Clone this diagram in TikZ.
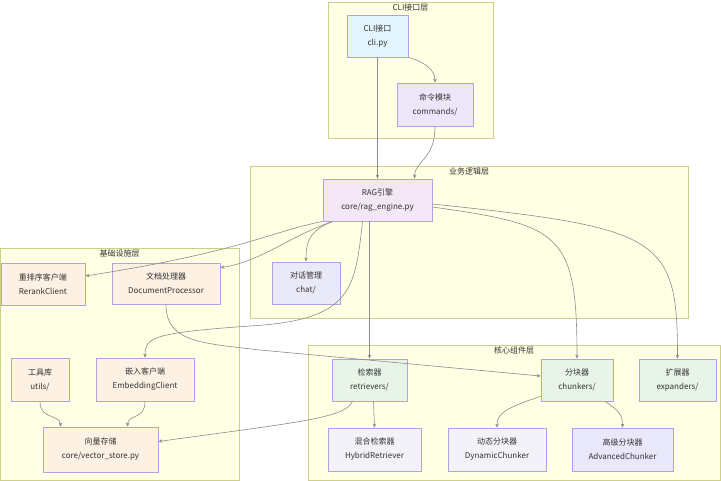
\documentclass[tikz,border=0pt]{standalone}
\usepackage{fontspec}
\setmainfont{Noto Sans CJK SC}
\usepackage{tikz}
\usepackage{xcolor}
\usetikzlibrary{positioning, arrows.meta, shapes.geometric}

\definecolor{layerfill}{HTML}{FFFFE3}
\definecolor{layerline}{HTML}{CFCF8A}
\definecolor{boxline}{HTML}{B3A0E6}
\definecolor{cliblue}{HTML}{E3F4FC}
\definecolor{cmdlav}{HTML}{ECE6F8}
\definecolor{ragpink}{HTML}{F3E6F5}
\definecolor{chatlav}{HTML}{E9E9F7}
\definecolor{infraorange}{HTML}{FDF1E3}
\definecolor{coregreen}{HTML}{E9F4E9}
\definecolor{subgray}{HTML}{F3F2F8}
\definecolor{advlav}{HTML}{E9E8FB}
\definecolor{edgegray}{HTML}{8C8C8C}
\definecolor{textdark}{HTML}{333333}

\begin{document}
\begin{tikzpicture}[x=1pt, y=-1pt,
  every node/.style={font=\fontsize{8}{14}\selectfont, text=textdark},
  layerbox/.style={draw=layerline, fill=layerfill, line width=0.6pt, inner sep=0pt},
  layertitle/.style={anchor=north, inner sep=1.5pt},
  modbox/.style={draw=boxline, line width=0.8pt, align=center, inner sep=0pt},
  arr/.style={draw=edgegray, line width=0.6pt, -{Stealth[length=4pt, width=3.5pt]}}]
  \useasboundingbox (0,0) rectangle (721,481);

  % Layers
  \node[layerbox, minimum width=165pt, minimum height=136pt] (clilayer) at (410.5,70) {};
  \node[layertitle] at (clilayer.north) {CLI接口层};
  \node[layerbox, minimum width=438pt, minimum height=152pt] (bizlayer) at (469,242) {};
  \node[layertitle] at (bizlayer.north) {业务逻辑层};
  \node[layerbox, minimum width=239pt, minimum height=232pt] (infralayer) at (119.5,364) {};
  \node[layertitle] at (infralayer.north) {基础设施层};
  \node[layerbox, minimum width=412pt, minimum height=135pt] (corelayer) at (514,412.5) {};
  \node[layertitle] at (corelayer.north) {核心组件层};

  % Nodes
  \node[modbox, fill=cliblue, minimum width=61pt, minimum height=42pt] (cli) at (377.5,36) {CLI接口\\cli.py};
  \node[modbox, fill=cmdlav, minimum width=76pt, minimum height=43pt] (cmd) at (435,104.5) {命令模块\\commands/};
  \node[modbox, fill=ragpink, minimum width=109pt, minimum height=42pt] (rag) at (377.5,200) {RAG引擎\\core/rag\_engine.py};
  \node[modbox, fill=chatlav, minimum width=68pt, minimum height=42pt] (chat) at (306,283) {对话管理\\chat/};
  \node[modbox, fill=infraorange, minimum width=84pt, minimum height=42pt] (rerank) at (43,284) {重排序客户端\\RerankClient};
  \node[modbox, fill=infraorange, minimum width=108pt, minimum height=41pt] (doc) at (166,283.5) {文档处理器\\DocumentProcessor};
  \node[modbox, fill=infraorange, minimum width=58pt, minimum height=43pt] (util) at (40,379.5) {工具库\\utils/};
  \node[modbox, fill=infraorange, minimum width=98pt, minimum height=43pt] (emb) at (145,379.5) {嵌入客户端\\EmbeddingClient};
  \node[modbox, fill=infraorange, minimum width=115pt, minimum height=45pt] (vec) at (100.5,449.5) {向量存储\\core/vector\_store.py};
  \node[modbox, fill=coregreen, minimum width=75pt, minimum height=42pt] (ret) at (369.5,380) {检索器\\retrievers/};
  \node[modbox, fill=coregreen, minimum width=72pt, minimum height=42pt] (chk) at (577,380) {分块器\\chunkers/};
  \node[modbox, fill=coregreen, minimum width=77pt, minimum height=42pt] (exp) at (677.5,380) {扩展器\\expanders/};
  \node[modbox, fill=subgray, minimum width=93pt, minimum height=43pt] (hyb) at (374.5,449.5) {混合检索器\\HybridRetriever};
  \node[modbox, fill=subgray, minimum width=98pt, minimum height=43pt] (dyn) at (497,449.5) {动态分块器\\DynamicChunker};
  \node[modbox, fill=advlav, minimum width=101pt, minimum height=43pt] (adv) at (622.5,449.5) {高级分块器\\AdvancedChunker};

  % Arrows
  \draw[arr] (cli.south) -- (rag.north);
  \draw[arr] (cli.south east) .. controls (425,62) and (435,70) .. (cmd.north);
  \draw[arr] (cmd.south) .. controls (435,160) and (415,160) .. ([xshift=37pt]rag.north);
  \draw[arr] (rag.south west) .. controls (270,232) and (240,252) .. ([yshift=8pt]rerank.east);
  \draw[arr] ([xshift=10pt]rag.south west) .. controls (290,236) and (260,262) .. ([yshift=-5pt]doc.north east);
  \draw[arr] ([xshift=10pt]rag.south west) .. controls (312,230) and (306,238) .. (chat.north);
  \draw[arr] ([xshift=-15pt]rag.south) .. controls (355,290) and (352,320) .. (250,326)
    .. controls (150,333) and (145,338) .. (emb.north);
  \draw[arr] (ret.north |- rag.south) -- (ret.north);
  \draw[arr] ([yshift=-7pt]rag.east) .. controls (560,225) and (577,232) .. (chk.north);
  \draw[arr] ([yshift=-4pt]rag.east) .. controls (660,228) and (677.5,236) .. (exp.north);
  \draw[arr] (doc.south) .. controls (166,342) and (200,343) .. (260,350) -- ([yshift=4pt]chk.west);

  % Lower links
  \draw[arr] ([xshift=4pt]ret.south) -- (hyb.north);
  \draw[arr] ([xshift=-17pt]ret.south) .. controls (345,418) and (300,422) .. ([yshift=8pt]vec.east);
  \draw[arr] (util.south) .. controls (40,420) and (60,414) .. ([xshift=-40pt]vec.north);
  \draw[arr] (emb.south) .. controls (145,420) and (128,414) .. ([xshift=27pt]vec.north);
  \draw[arr] ([yshift=5pt]chk.south west) .. controls (505,408) and (497,414) .. (dyn.north);
  \draw[arr] ([xshift=28pt]chk.south) .. controls (618,410) and (622.5,414) .. (adv.north);
\end{tikzpicture}
\end{document}
